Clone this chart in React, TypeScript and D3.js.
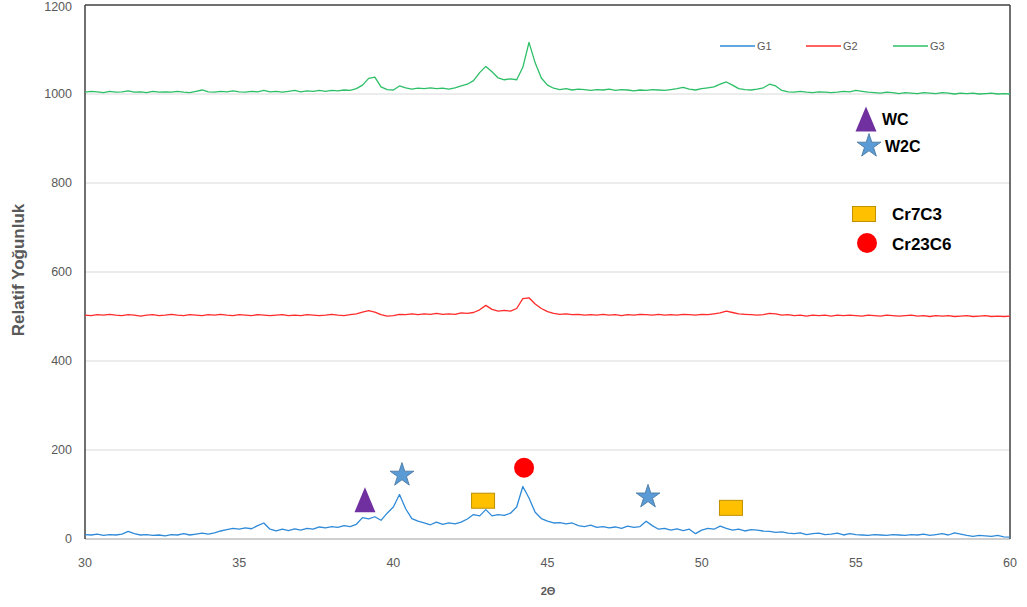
import React from "react";
import * as d3 from "d3";

const twoTheta = [
  30.0, 30.2, 30.4, 30.6, 30.8, 31.0, 31.2, 31.4, 31.6, 31.8,
  32.0, 32.2, 32.4, 32.6, 32.8, 33.0, 33.2, 33.4, 33.6, 33.8,
  34.0, 34.2, 34.4, 34.6, 34.8, 35.0, 35.2, 35.4, 35.6, 35.8,
  36.0, 36.2, 36.4, 36.6, 36.8, 37.0, 37.2, 37.4, 37.6, 37.8,
  38.0, 38.2, 38.4, 38.6, 38.8, 39.0, 39.2, 39.4, 39.6, 39.8,
  40.0, 40.2, 40.4, 40.6, 40.8, 41.0, 41.2, 41.4, 41.6, 41.8,
  42.0, 42.2, 42.4, 42.6, 42.8, 43.0, 43.2, 43.4, 43.6, 43.8,
  44.0, 44.2, 44.4, 44.6, 44.8, 45.0, 45.2, 45.4, 45.6, 45.8,
  46.0, 46.2, 46.4, 46.6, 46.8, 47.0, 47.2, 47.4, 47.6, 47.8,
  48.0, 48.2, 48.4, 48.6, 48.8, 49.0, 49.2, 49.4, 49.6, 49.8,
  50.0, 50.2, 50.4, 50.6, 50.8, 51.0, 51.2, 51.4, 51.6, 51.8,
  52.0, 52.2, 52.4, 52.6, 52.8, 53.0, 53.2, 53.4, 53.6, 53.8,
  54.0, 54.2, 54.4, 54.6, 54.8, 55.0, 55.2, 55.4, 55.6, 55.8,
  56.0, 56.2, 56.4, 56.6, 56.8, 57.0, 57.2, 57.4, 57.6, 57.8,
  58.0, 58.2, 58.4, 58.6, 58.8, 59.0, 59.2, 59.4, 59.6, 59.8,
  60.0,
];

const g1 = [
  10, 9, 11, 8, 10, 9, 11, 17, 12, 9,
  10, 8, 9, 7, 10, 9, 12, 9, 11, 13,
  11, 14, 18, 21, 24, 22, 25, 23, 30, 36,
  22, 18, 22, 19, 23, 20, 24, 22, 27, 25,
  28, 26, 30, 28, 33, 48, 45, 50, 42, 58,
  72, 100, 68, 46, 40, 36, 32, 38, 33, 36,
  34, 38, 45, 55, 52, 66, 52, 55, 53, 58,
  72, 118, 92, 60, 46, 40, 36, 37, 34, 36,
  30, 28, 31, 26, 28, 25, 27, 24, 29, 26,
  28, 40, 30, 22, 24, 20, 23, 19, 22, 12,
  20, 24, 22, 29, 24, 20, 22, 18, 21, 20,
  18, 17, 15, 16, 13, 12, 14, 10, 12, 13,
  10, 11, 13, 9, 12, 10, 9, 8, 10, 9,
  8, 10, 9, 8, 10, 9, 11, 8, 10, 12,
  9, 14, 11, 8, 6, 8, 7, 6, 8, 5,
  4,
];

const g2 = [
  503, 502, 504, 503, 505, 503, 502, 504, 503, 501,
  503, 504, 502, 503, 505, 503, 502, 504, 503, 502,
  504, 503, 505, 503, 502, 504, 503, 502, 504, 503,
  502, 503, 504, 502, 503, 502, 504, 503, 502, 503,
  505, 503, 502, 504, 506, 510, 513, 510, 504, 501,
  502, 505, 504, 506, 504, 506, 505, 507, 505, 506,
  505, 508, 507, 509, 515, 525, 516, 512, 514, 512,
  518, 540, 542, 528, 518, 511, 507, 505, 506, 504,
  505, 503, 504, 503, 505, 503, 504, 502, 504, 503,
  505, 504, 503, 505, 503, 504, 503, 505, 504, 503,
  505, 504, 506, 508, 512, 509, 506, 505, 504, 503,
  504, 507, 506, 503, 504, 502, 503, 501, 503, 502,
  503, 501, 503, 502, 503, 502, 501, 503, 502, 501,
  503, 502, 501, 502, 503, 501, 502, 500, 502, 501,
  502, 500, 501, 502, 500, 501, 502, 500, 501, 500,
  501,
];

const g3 = [
  1004, 1006, 1005, 1003, 1006, 1004, 1005, 1007, 1004, 1005,
  1003, 1006, 1004, 1005, 1004, 1006, 1004, 1003, 1006, 1009,
  1005, 1004, 1006, 1005, 1007, 1005, 1004, 1006, 1005, 1008,
  1005, 1006, 1004, 1006, 1008, 1005, 1007, 1006, 1008, 1006,
  1008, 1007, 1009, 1008, 1012, 1020, 1035, 1038, 1016, 1010,
  1009, 1018, 1014, 1011, 1013, 1012, 1014, 1012, 1013, 1011,
  1014, 1018, 1022, 1030, 1048, 1062, 1050, 1036, 1032, 1034,
  1032, 1060, 1116, 1070, 1036, 1020, 1013, 1010, 1012, 1009,
  1011, 1010, 1008, 1010, 1009, 1011, 1008, 1010, 1009, 1007,
  1009, 1008, 1010, 1009, 1008, 1010, 1012, 1015, 1011, 1009,
  1012, 1014, 1016, 1022, 1027, 1020, 1012, 1010, 1009, 1011,
  1014, 1022, 1018, 1008, 1005, 1004, 1006, 1004, 1003, 1005,
  1004, 1003, 1004, 1006, 1005, 1008, 1006, 1004, 1003, 1002,
  1004, 1003, 1001, 1003, 1002, 1001, 1003, 1002, 1001, 1003,
  1002, 1000, 1002, 1001, 1002, 1000, 1001, 1002, 1000, 1001,
  1000,
];

const seriesNames = ["G1", "G2", "G3"];
const xTicks = [30, 35, 40, 45, 50, 55, 60];
const yTicks = [0, 200, 400, 600, 800, 1000, 1200];

// phase markers: type, 2theta, intensity
const markerTypes = ["WC", "W2C", "W2C", "Cr7C3", "Cr7C3", "Cr23C6"];
const markerX = [39.08, 40.28, 48.26, 42.91, 50.95, 44.24];
const markerY = [88, 146, 97, 86, 70, 160];
const phaseLabels = ["WC", "W2C", "Cr7C3", "Cr23C6"];

const W = 1027;
const H = 607;
const M = { left: 85, right: 1010, top: 5, bottom: 539 };
const colors = ["#2f8ad8", "#ff2b2b", "#2dbf67"];
const axisFont = "'Liberation Sans', Arial, sans-serif";

function Marker({ type, cx, cy }: { type: string; cx: number; cy: number }) {
  if (type === "WC") {
    return (
      <path
        d={`M${cx},${cy - 12.5} L${cx + 10.5},${cy + 12.5} L${cx - 10.5},${cy + 12.5} Z`}
        fill="#7030a0"
      />
    );
  }
  if (type === "W2C") {
    const star = d3.symbol().type(d3.symbolStar).size(175)();
    return (
      <path d={star as string} transform={`translate(${cx},${cy + 1})`} fill="#5b9bd5" stroke="#41719c" strokeWidth={0.8} />
    );
  }
  if (type === "Cr7C3") {
    return <rect x={cx - 11.5} y={cy - 7.5} width={23} height={15} fill="#ffc000" stroke="#bf9000" strokeWidth={1} />;
  }
  return <circle cx={cx} cy={cy} r={10} fill="#ff0000" />;
}

export default function App() {
  const x = d3.scaleLinear().domain([30, 60]).range([M.left, M.right]);
  const y = d3.scaleLinear().domain([0, 1200]).range([M.bottom, M.top]);
  const seriesData = [g1, g2, g3];
  const line = d3
    .line<number>()
    .x((_, i) => x(twoTheta[i]))
    .y((d) => y(d));

  const legendLines = [720, 806, 893];
  const phaseLegend = [
    { cx: 866, cy: 119, tx: 882, ty: 125, size: 16 },
    { cx: 869, cy: 145, tx: 885, ty: 152, size: 16 },
    { cx: 864, cy: 214, tx: 892, ty: 220, size: 17 },
    { cx: 867, cy: 243, tx: 892, ty: 250, size: 17 },
  ];

  return (
    <svg width={W} height={H} style={{ position: "absolute", left: 0, top: 0, background: "#fff" }}>
      {/* grid */}
      {yTicks.filter((t) => t > 0 && t < 1200).map((t) => (
        <line key={t} x1={M.left} x2={M.right} y1={y(t)} y2={y(t)} stroke="#d9d9d9" strokeWidth={1} />
      ))}
      {/* frame */}
      <line x1={M.left} x2={M.right} y1={M.bottom} y2={M.bottom} stroke="#bfbfbf" strokeWidth={1.5} />
      <line x1={M.left} x2={M.right} y1={M.top} y2={M.top} stroke="#404040" strokeWidth={1.5} />
      <line x1={M.left} x2={M.left} y1={M.top} y2={M.bottom} stroke="#404040" strokeWidth={1.5} />
      <line x1={M.right} x2={M.right} y1={M.top} y2={M.bottom} stroke="#404040" strokeWidth={1.5} />

      {/* y tick labels */}
      {yTicks.map((t) => (
        <text key={t} x={72} y={Math.max(y(t), 7)} dy="0.35em" textAnchor="end" fontFamily={axisFont} fontSize={12.5} fill="#595959">
          {t}
        </text>
      ))}
      {/* x tick labels */}
      {xTicks.map((t) => (
        <text key={t} x={x(t)} y={567} textAnchor="middle" fontFamily={axisFont} fontSize={12.5} fill="#595959">
          {t}
        </text>
      ))}
      <text
        transform={`translate(24,270) rotate(-90)`}
        textAnchor="middle"
        fontFamily={axisFont}
        fontWeight="bold"
        fontSize={17}
        fill="#595959"
      >
        Relatif Yoğunluk
      </text>
      <text x={548} y={595} textAnchor="middle" fontFamily={axisFont} fontWeight="bold" fontSize={11} fill="#595959">
        2Θ
      </text>

      {/* series */}
      {seriesData.map((s, i) => (
        <path key={i} d={line(s) as string} fill="none" stroke={colors[i]} strokeWidth={1.3} strokeLinejoin="round" />
      ))}

      {/* series legend */}
      {seriesNames.map((n, i) => (
        <g key={n}>
          <line x1={legendLines[i]} x2={legendLines[i] + 35} y1={46} y2={46} stroke={colors[i]} strokeWidth={1.5} />
          <text x={legendLines[i] + 37} y={50} fontFamily={axisFont} fontSize={11} fill="#595959">
            {n}
          </text>
        </g>
      ))}

      {/* phase markers */}
      {markerTypes.map((t, i) => (
        <Marker key={i} type={t} cx={x(markerX[i])} cy={y(markerY[i])} />
      ))}

      {/* phase legend */}
      {phaseLabels.map((p, i) => (
        <g key={p}>
          <Marker type={p} cx={phaseLegend[i].cx} cy={phaseLegend[i].cy} />
          <text x={phaseLegend[i].tx} y={phaseLegend[i].ty} fontFamily={axisFont} fontWeight="bold" fontSize={phaseLegend[i].size} fill="#000">
            {p}
          </text>
        </g>
      ))}
    </svg>
  );
}
